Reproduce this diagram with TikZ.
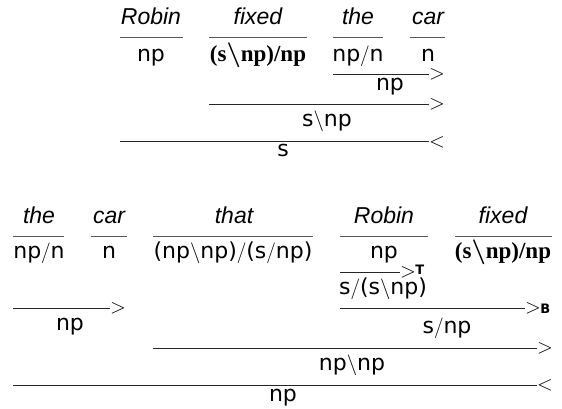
\documentclass[tikz,border=0pt]{standalone}
\usepackage{amsmath}
\usepackage{fontspec}
\setmainfont{Liberation Serif}
\newfontfamily\wordfont{Liberation Sans}
\newfontfamily\catfont{DejaVu Sans}
\newfontfamily\opfont{DejaVu Sans}
\newcommand\cgsl{$/$}
\newcommand\cgbs{$\backslash$}
\tikzset{
  word/.style={font=\wordfont\itshape\fontsize{23}{27}\selectfont, anchor=base, inner sep=0pt},
  cat/.style={font=\catfont\fontsize{22}{26}\selectfont, anchor=base, inner sep=0pt},
  bcatn/.style={font=\fontsize{23}{27}\selectfont\bfseries, anchor=base, inner sep=0pt},
  lex/.style={draw=black!65, line width=1pt},
  der/.style={draw=black!85, line width=1pt},
  op/.style={font=\fontsize{20}{24}\selectfont, anchor=base west, inner sep=0pt, text depth=0pt, yshift=-5pt},
  opsup/.style={font=\opfont\bfseries\fontsize{13}{14}\selectfont, anchor=base west, inner sep=0pt},
  opsub/.style={font=\opfont\bfseries\fontsize{13}{14}\selectfont, anchor=base west, inner sep=0pt}
}
\begin{document}
\begin{tikzpicture}[x=1pt,y=-1pt]
\useasboundingbox (0,0) rectangle (562,409);
% ---------- top derivation ----------
\node[word] (tw1) at (151,25) {Robin};
\node[word] (tw2) at (258,25) {fixed};
\node[word] (tw3) at (358,25) {the};
\node[word] (tw4) at (428,25) {car};
\coordinate (tl1a) at (120,38); \coordinate (tl1b) at (183,38);
\coordinate (tl2a) at (209,38); \coordinate (tl2b) at (307,38);
\coordinate (tl3a) at (333,38); \coordinate (tl3b) at (383,38);
\coordinate (tl4a) at (410,38); \coordinate (tl4b) at (445,38);
\draw[lex] (tl1a) -- (tl1b);
\draw[lex] (tl2a) -- (tl2b);
\draw[lex] (tl3a) -- (tl3b);
\draw[lex] (tl4a) -- (tl4b);
\node[cat] (tc1) at (151,62) {np};
\node[bcatn] (tc2) at (258,62) {(s$\boldsymbol{\backslash}$np)/np};
\node[cat] (tc3) at (358,62) {np\cgsl n};
\node[cat] (tc4) at (428,62) {n};
% step 1
\coordinate (td1a) at (333,75); \coordinate (td1b) at (429,75);
\draw[der] (td1a) -- (td1b);
\node[op] (to1) at (td1b) {$>$};
\node[cat] (tr1) at (390,91) {np};
% step 2
\coordinate (td2a) at (209,105); \coordinate (td2b) at (429,105);
\draw[der] (td2a) -- (td2b);
\node[op] (to2) at (td2b) {$>$};
\node[cat] (tr2) at (327,127) {s\cgbs np};
% step 3
\coordinate (td3a) at (120,142); \coordinate (td3b) at (429,142);
\draw[der] (td3a) -- (td3b);
\node[op] (to3) at (td3b) {$<$};
\node[cat] (tr3) at (283,157) {s};
% ---------- bottom derivation ----------
\node[word] (bw1) at (39,223) {the};
\node[word] (bw2) at (109,223) {car};
\node[word] (bw3) at (234,223) {that};
\node[word] (bw4) at (384,223) {Robin};
\node[word] (bw5) at (503,223) {fixed};
\coordinate (bl1a) at (13,236); \coordinate (bl1b) at (64,236);
\coordinate (bl2a) at (91,236); \coordinate (bl2b) at (127,236);
\coordinate (bl3a) at (153,236); \coordinate (bl3b) at (313,236);
\coordinate (bl4a) at (340,236); \coordinate (bl4b) at (428,236);
\coordinate (bl5a) at (455,236); \coordinate (bl5b) at (552,236);
\draw[lex] (bl1a) -- (bl1b);
\draw[lex] (bl2a) -- (bl2b);
\draw[lex] (bl3a) -- (bl3b);
\draw[lex] (bl4a) -- (bl4b);
\draw[lex] (bl5a) -- (bl5b);
\node[cat] (bc1) at (39,258) {np\cgsl n};
\node[cat] (bc2) at (109,258) {n};
\node[cat] (bc3) at (233,258) {(np\cgbs np)\cgsl(s\cgsl np)};
\node[cat] (bc4) at (384,258) {np};
\node[bcatn] (bc5) at (503,258) {(s$\boldsymbol{\backslash}$np)/np};
% the car
\coordinate (bd1a) at (13,308); \coordinate (bd1b) at (110,308);
\draw[der] (bd1a) -- (bd1b);
\node[op] (bo1) at (bd1b) {$>$};
\node[cat] (br1) at (70,330) {np};
% type raising
\coordinate (bd2a) at (340,272); \coordinate (bd2b) at (400,272);
\draw[der] (bd2a) -- (bd2b);
\node[op] (bo2) at (bd2b) {$>$};
\node[opsup] (bo2t) at ([xshift=-1pt]bo2.east |- 0,274) {T};
\node[cat] (br2) at (383,294) {s\cgsl(s\cgbs np)};
% composition
\coordinate (bd3a) at (340,308); \coordinate (bd3b) at (525,308);
\draw[der] (bd3a) -- (bd3b);
\node[op] (bo3) at (bd3b) {$>$};
\node[opsub] (bo3b) at ([xshift=-1pt]bo3.east |- 0,313) {B};
\node[cat] (br3) at (447,333) {s\cgsl np};
% np\np
\coordinate (bd4a) at (153,348); \coordinate (bd4b) at (537,348);
\draw[der] (bd4a) -- (bd4b);
\node[op] (bo4) at (bd4b) {$>$};
\node[cat] (br4) at (352,370) {np\cgbs np};
% np
\coordinate (bd5a) at (13,385); \coordinate (bd5b) at (537,385);
\draw[der] (bd5a) -- (bd5b);
\node[op] (bo5) at (bd5b) {$<$};
\node[cat] (br5) at (283,401) {np};
\end{tikzpicture}
\end{document}
